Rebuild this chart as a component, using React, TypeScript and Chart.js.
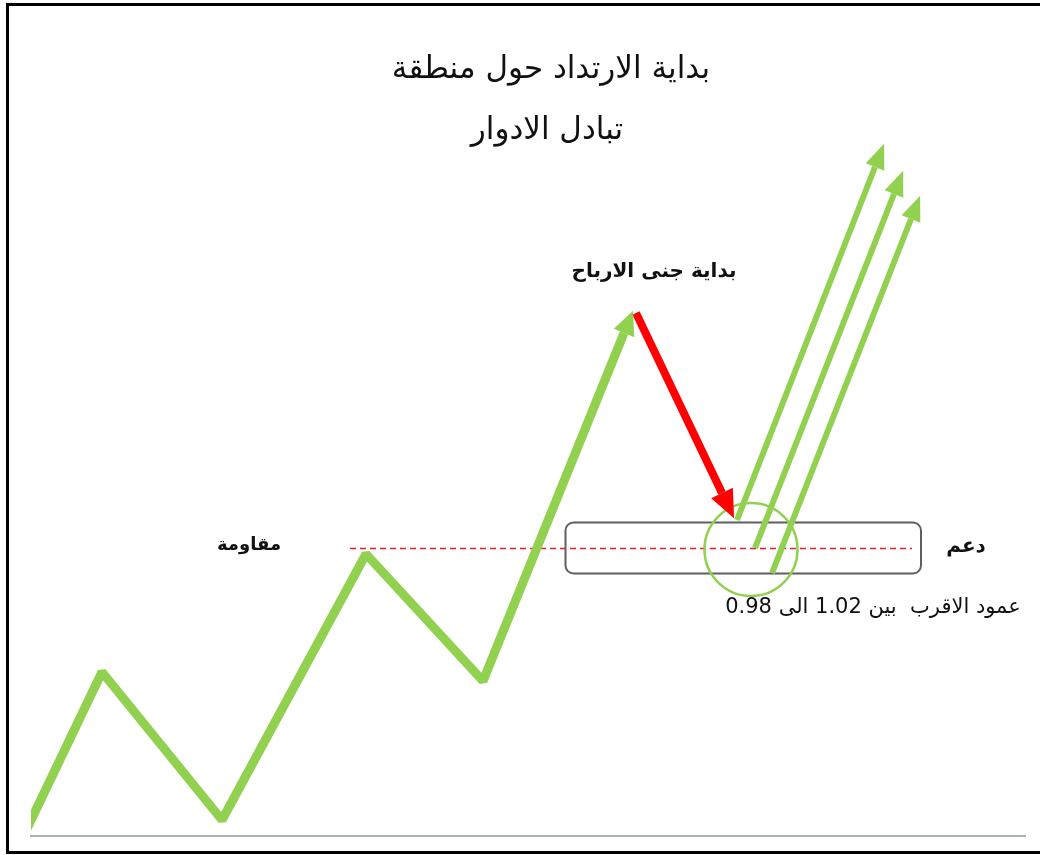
import React, { useEffect, useRef } from 'react';
import { Chart, registerables } from 'chart.js';

Chart.register(...registerables);

const W = 1040;
const H = 855;

// Price path (x = time position, y = price level)
const zigzagX = [22, 102, 222, 366, 483, 624];
const zigzagY = [-3, 164, 16, 282, 155, 503];
// Profit-taking pullback
const pullbackX = [636, 722];
const pullbackY = [523, 343];
// Three rebound arrows from the support zone
const bounce1X = [737, 875];
const bounce1Y = [316, 669];
const bounce2X = [755, 894];
const bounce2Y = [288, 642];
const bounce3X = [772, 911];
const bounce3Y = [263, 617];
// Resistance turned support level
const levelX = [350, 912];
const levelY = [287.5, 287.5];
// Support zone box (0.98 .. 1.02)
const zoneX = [565.5, 921];
const zoneY = [262.5, 313.5];
// Highlight circle
const focusX = [751];
const focusY = [286.5];
const focusR = [46.5];

// Texts
const titleLines = ['بداية الارتداد حول منطقة', 'تبادل الادوار'];
const titleX = [551, 547];
const titleY = [766, 705];
const labelTexts = ['بداية جنى الارباح', 'مقاومة', 'دعم'];
const labelX = [654, 249, 966];
const labelY = [564, 291, 289];
const labelSizes = [20, 18, 20];
const noteText = 'عمود الاقرب  بين 1.02 الى 0.98';
const noteX = 873;
const noteY = 228;

const GREEN = '#92D050';
const RED = '#FF0000';

const pts = (xs: number[], ys: number[]) => xs.map((x, i) => ({ x, y: ys[i] }));

const diagramPlugin = {
  id: 'diagram',
  beforeDraw(chart: any) {
    const ctx = chart.ctx;
    ctx.save();
    ctx.strokeStyle = '#000';
    ctx.lineWidth = 3;
    ctx.beginPath();
    ctx.moveTo(W + 5, 4.5);
    ctx.lineTo(7.5, 4.5);
    ctx.lineTo(7.5, 852.5);
    ctx.lineTo(W + 5, 852.5);
    ctx.stroke();
    ctx.restore();
  },
  beforeDatasetsDraw(chart: any) {
    const ctx = chart.ctx;
    const xs = chart.scales.x;
    const ys = chart.scales.y;
    const l = xs.getPixelForValue(zoneX[0]);
    const r = xs.getPixelForValue(zoneX[1]);
    const t = ys.getPixelForValue(zoneY[1]);
    const b = ys.getPixelForValue(zoneY[0]);
    ctx.save();
    ctx.strokeStyle = '#5f5f5f';
    ctx.lineWidth = 2;
    ctx.beginPath();
    if ((ctx as any).roundRect) (ctx as any).roundRect(l, t, r - l, b - t, 8);
    else ctx.rect(l, t, r - l, b - t);
    ctx.stroke();
    ctx.restore();
  },
  afterDatasetsDraw(chart: any) {
    const ctx = chart.ctx;
    const xs = chart.scales.x;
    const ys = chart.scales.y;
    // arrow heads
    chart.data.datasets.forEach((ds: any, i: number) => {
      if (!ds.arrowLength) return;
      const meta = chart.getDatasetMeta(i);
      const n = meta.data.length;
      const a = meta.data[n - 2];
      const b = meta.data[n - 1];
      const dx = b.x - a.x;
      const dy = b.y - a.y;
      const len = Math.hypot(dx, dy);
      const ux = dx / len;
      const uy = dy / len;
      const px = -uy;
      const py = ux;
      const L = ds.arrowLength;
      const hw = ds.arrowWidth;
      ctx.save();
      ctx.fillStyle = ds.borderColor;
      ctx.beginPath();
      ctx.moveTo(b.x + ux * L, b.y + uy * L);
      ctx.lineTo(b.x + px * hw, b.y + py * hw);
      ctx.lineTo(b.x - px * hw, b.y - py * hw);
      ctx.closePath();
      ctx.fill();
      ctx.restore();
    });
    // texts
    ctx.save();
    ctx.fillStyle = '#111';
    ctx.textAlign = 'center';
    ctx.textBaseline = 'middle';
    (ctx as any).direction = 'rtl';
    ctx.font = '31px "DejaVu Sans", sans-serif';
    titleLines.forEach((t, i) => {
      ctx.fillText(t, xs.getPixelForValue(titleX[i]), ys.getPixelForValue(titleY[i]));
    });
    labelTexts.forEach((t, i) => {
      ctx.font = `bold ${labelSizes[i]}px "DejaVu Sans", sans-serif`;
      ctx.fillText(t, xs.getPixelForValue(labelX[i]), ys.getPixelForValue(labelY[i]));
    });
    ctx.font = '21px "DejaVu Sans", sans-serif';
    ctx.fillText(noteText, xs.getPixelForValue(noteX), ys.getPixelForValue(noteY));
    ctx.restore();
  },
};

export default function App() {
  const ref = useRef<HTMLCanvasElement | null>(null);
  useEffect(() => {
    if (!ref.current) return;
    const lineDs = (xs: number[], ys: number[], color: string, width: number, extra: any = {}) => ({
      type: 'scatter',
      data: pts(xs, ys),
      showLine: true,
      borderColor: color,
      backgroundColor: color,
      borderWidth: width,
      pointRadius: 0,
      pointHoverRadius: 0,
      borderJoinStyle: 'bevel',
      borderCapStyle: 'butt',
      tension: 0,
      clip: 0,
      ...extra,
    });
    const chart = new Chart(ref.current, {
      type: 'scatter',
      data: {
        datasets: [
          lineDs(pullbackX, pullbackY, RED, 8, { arrowLength: 28, arrowWidth: 12 }),
          lineDs(zigzagX, zigzagY, GREEN, 9, { arrowLength: 24, arrowWidth: 11 }),
          lineDs(bounce1X, bounce1Y, GREEN, 6, { arrowLength: 25, arrowWidth: 10 }),
          lineDs(bounce2X, bounce2Y, GREEN, 6, { arrowLength: 25, arrowWidth: 10 }),
          lineDs(bounce3X, bounce3Y, GREEN, 6, { arrowLength: 25, arrowWidth: 10 }),
          {
            type: 'bubble',
            data: focusX.map((x, i) => ({ x, y: focusY[i], r: focusR[i] })),
            borderColor: GREEN,
            backgroundColor: 'rgba(0,0,0,0)',
            borderWidth: 2.5,
            hoverRadius: 0,
            clip: 0,
          },
          lineDs(levelX, levelY, '#E8202A', 1.3, { borderDash: [6, 4] }),
        ] as any,
      },
      options: {
        animation: false,
        responsive: true,
        maintainAspectRatio: false,
        events: [],
        layout: { autoPadding: false, padding: { left: 31, right: 15, top: 0, bottom: 19 } },
        plugins: { legend: { display: false }, tooltip: { enabled: false }, title: { display: false } },
        scales: {
          x: {
            type: 'linear',
            min: 31,
            max: 1025,
            display: true,
            grid: { display: false, drawTicks: false, tickLength: 0 },
            ticks: { display: false },
            border: { display: true, color: '#A7B5B5', width: 2 },
          },
          y: {
            type: 'linear',
            min: 0,
            max: 836,
            display: false,
          },
        },
      } as any,
      plugins: [diagramPlugin],
    });
    return () => chart.destroy();
  }, []);
  return (
    <div style={{ position: 'absolute', left: 0, top: 0, width: W, height: H, background: '#fff' }}>
      <canvas ref={ref} />
    </div>
  );
}
